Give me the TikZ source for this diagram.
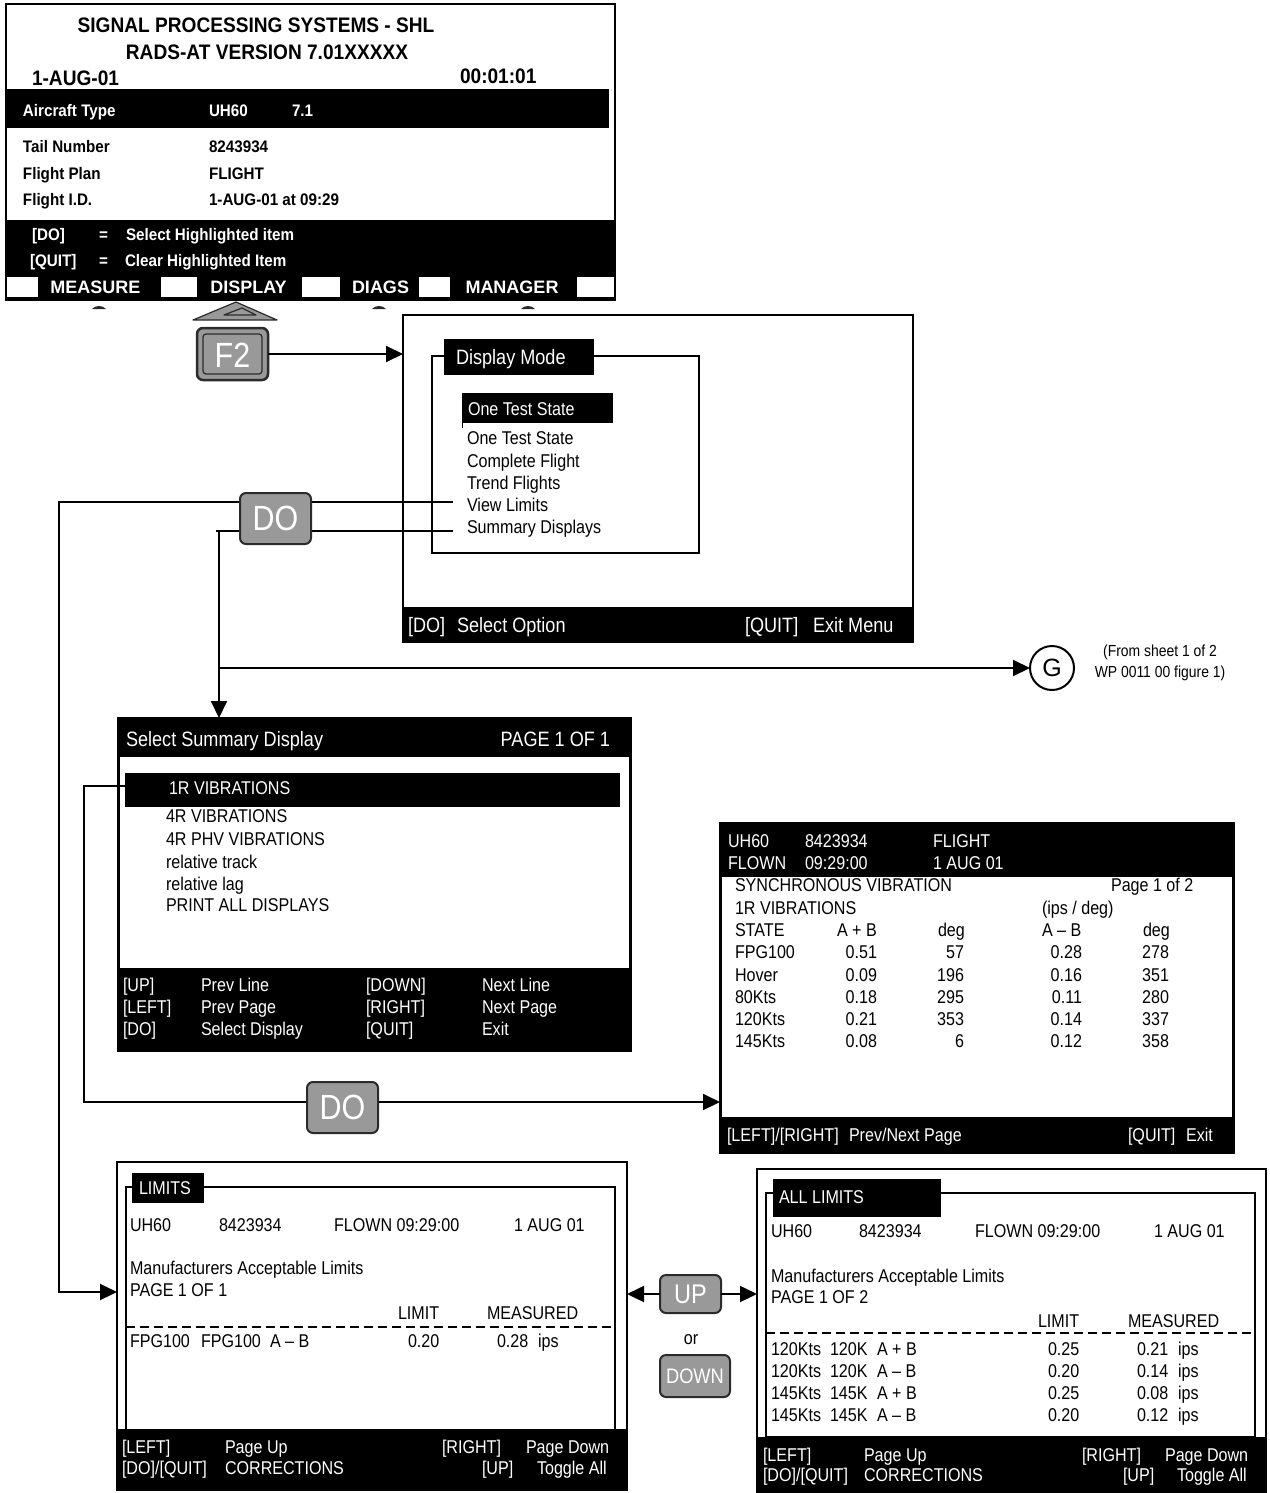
\documentclass[tikz,border=0pt]{standalone}
\usepackage{fontspec}
\setmainfont{Liberation Sans}
\newfontfamily\nar[FakeStretch=0.87]{Liberation Sans}
\newfontfamily\hdr[FakeStretch=0.91]{Liberation Sans}
\newfontfamily\fkf{Liberation Sans}
\usetikzlibrary{arrows.meta,fit}
\definecolor{keyg}{HTML}{999999}
\definecolor{keyb}{HTML}{2B2B2B}
\newcounter{tn}
\newcommand\Tx[3]{\stepcounter{tn}\node[#1] (t\arabic{tn}) at (#2) {#3};}
\tikzset{
  every node/.style={inner sep=0pt, outer sep=0pt},
  tb/.style={anchor=west, text height=13.3pt, text depth=0pt, font=\nar\fontsize{18.5}{20}\selectfont},
  tl/.style={anchor=west, text height=15pt, text depth=0pt, font=\nar\fontsize{20.8}{22}\selectfont},
  ts/.style={anchor=center, text height=11.5pt, text depth=0pt, font=\nar\fontsize{16}{17}\selectfont},
  th/.style={anchor=west, text height=15.1pt, text depth=0pt, font=\hdr\bfseries\fontsize{21}{22}\selectfont},
  tm/.style={anchor=west, text height=12pt, text depth=0pt, font=\hdr\bfseries\fontsize{16.7}{18}\selectfont},
  tf/.style={anchor=center, text height=13pt, text depth=0pt, font=\fkf\bfseries\fontsize{18}{20}\selectfont, text=white},
  wt/.style={text=white},
  scr/.style={draw=black, line width=2pt, fill=white},
  key/.style={draw=keyb, line width=2pt, fill=keyg, rounded corners=6pt},
  keytxt/.style={text=white, anchor=center, font=\nar\fontsize{#1}{#1}\selectfont},
  conn/.style={line width=2pt, draw=black},
  arr/.style={conn, -{Triangle[length=17pt,width=16pt]}},
}
\begin{document}
\begin{tikzpicture}[x=1pt,y=-1pt]
\useasboundingbox (0,0) rectangle (1269,1493);

% ---------------- top screen ----------------
\node[scr, fit={(6,4) (615,300)}] (top) {};
\fill[black] (7,89) rectangle (609,128);
\fill[black] (7,220) rectangle (614,299);
\foreach \a/\b in {7/38,161/197,302/340,419/450,577/614}
  \fill[white] (\a,277) rectangle (\b,297);
\Tx{th,anchor=center}{256,25}{SIGNAL PROCESSING SYSTEMS - SHL}
\Tx{th,anchor=center}{267,52}{RADS-AT VERSION 7.01XXXXX}
\Tx{th}{32,78}{1-AUG-01}
\Tx{th}{460,76}{00:01:01}
\Tx{tm,wt}{23,111}{Aircraft Type}
\Tx{tm,wt}{209,111}{UH60}
\Tx{tm,wt}{292,111}{7.1}
\Tx{tm}{23,146}{Tail Number}
\Tx{tm}{209,146}{8243934}
\Tx{tm}{23,173}{Flight Plan}
\Tx{tm}{209,173}{FLIGHT}
\Tx{tm}{23,199}{Flight I.D.}
\Tx{tm}{209,199}{1-AUG-01 at 09:29}
\Tx{tm,wt}{32,234}{[DO]}
\Tx{tm,wt}{99,234}{=}
\Tx{tm,wt}{126,234}{Select Highlighted item}
\Tx{tm,wt}{30,260}{[QUIT]}
\Tx{tm,wt}{99,260}{=}
\Tx{tm,wt}{125,260}{Clear Highlighted Item}
\Tx{tf}{95.5,287}{MEASURE}
\Tx{tf}{248.5,287}{DISPLAY}
\Tx{tf}{380.5,287}{DIAGS}
\Tx{tf}{512,287}{MANAGER}
% key tops below the soft keys
\foreach \c in {99,379,528}
  \fill[keyb] (\c-7,309) .. controls (\c-4,305) and (\c+4,305) .. (\c+7,309) -- cycle;
% display soft-key triangle
\draw[fill=keyg, draw=keyb, line width=1.2pt, line join=round] (193,320) -- (236,302) -- (277,320) -- cycle;
\draw[draw=keyb, line width=1.2pt, line join=round] (224,315) -- (242,308) -- (256,315) -- cycle;

% ---------------- F2 key ----------------
\node[key, line width=2.5pt, fit={(197,328) (268,380)}] (f2) {};
\draw[draw=keyb, line width=1.2pt, fill=keyg, rounded corners=3pt] (203,334) rectangle (262,374);
\node[keytxt=35] (f2t) at (232.5,355) {F2};

% ---------------- Display Mode screen ----------------
\node[scr, fit={(403,315) (913,642)}] (dm) {};
\fill[black] (403,607) rectangle (913,642);
\draw[line width=2pt] (432,356) rectangle (699,553);
\fill[black] (444,339) rectangle (594,375);
\Tx{tl,wt}{456,357}{Display Mode}
\fill[black] (462,393) rectangle (613,423);
\draw[line width=1pt] (462,423) -- (462,428);
\Tx{tb,wt}{468,409}{One Test State}
\Tx{tb}{467,438}{One Test State}
\Tx{tb}{467,461}{Complete Flight}
\Tx{tb}{467,483}{Trend Flights}
\Tx{tb}{467,505}{View Limits}
\Tx{tb}{467,527}{Summary Displays}
\Tx{tl,wt}{408,625}{[DO]}
\Tx{tl,wt}{457,625}{Select Option}
\Tx{tl,wt}{745,625}{[QUIT]}
\Tx{tl,wt}{813,625}{Exit Menu}

% ---------------- Select Summary Display ----------------
\node[scr, line width=3pt, fit={(118,718) (630,1050)}] (ssd) {};
\fill[black] (118,718) rectangle (630,757);
\fill[black] (118,968) rectangle (630,1050);
\fill[black] (125,773) rectangle (620,807);
\Tx{tl,wt}{126,739}{Select Summary Display}
\Tx{tl,wt,anchor=east}{610,739}{PAGE 1 OF 1}
\Tx{tb,wt}{169,788}{1R VIBRATIONS}
\Tx{tb}{166,816}{4R VIBRATIONS}
\Tx{tb}{166,839}{4R PHV VIBRATIONS}
\Tx{tb}{166,862}{relative track}
\Tx{tb}{166,884}{relative lag}
\Tx{tb}{166,905}{PRINT ALL DISPLAYS}
\Tx{tb,wt}{123,985}{[UP]}
\Tx{tb,wt}{201,985}{Prev Line}
\Tx{tb,wt}{366,985}{[DOWN]}
\Tx{tb,wt}{482,985}{Next Line}
\Tx{tb,wt}{123,1007}{[LEFT]}
\Tx{tb,wt}{201,1007}{Prev Page}
\Tx{tb,wt}{366,1007}{[RIGHT]}
\Tx{tb,wt}{482,1007}{Next Page}
\Tx{tb,wt}{123,1029}{[DO]}
\Tx{tb,wt}{201,1029}{Select Display}
\Tx{tb,wt}{366,1029}{[QUIT]}
\Tx{tb,wt}{482,1029}{Exit}

% ---------------- Synchronous vibration ----------------
\node[scr, line width=3pt, fit={(720,823) (1233,1152)}] (sync) {};
\fill[black] (720,823) rectangle (1233,877);
\fill[black] (720,1117) rectangle (1233,1152);
\Tx{tb,wt}{728,841}{UH60}
\Tx{tb,wt}{805,841}{8423934}
\Tx{tb,wt}{933,841}{FLIGHT}
\Tx{tb,wt}{728,863}{FLOWN}
\Tx{tb,wt}{805,863}{09:29:00}
\Tx{tb,wt}{933,863}{1 AUG 01}
\Tx{tb}{735,885}{SYNCHRONOUS VIBRATION}
\Tx{tb}{1111,885}{Page 1 of 2}
\Tx{tb}{735,908}{1R VIBRATIONS}
\Tx{tb}{1042,908}{(ips / deg)}
\Tx{tb}{735,930}{STATE}
\Tx{tb}{837,930}{A + B}
\Tx{tb}{938,930}{deg}
\Tx{tb}{1042,930}{A – B}
\Tx{tb}{1143,930}{deg}
\foreach \y/\s/\p/\q/\r/\u in {952/FPG100/0.51/57/0.28/278, 975/Hover/0.09/196/0.16/351,
   997/80Kts/0.18/295/0.11/280, 1019/120Kts/0.21/353/0.14/337, 1041/145Kts/0.08/6/0.12/358}{
  \Tx{tb}{735,\y}{\s}
  \Tx{tb,anchor=east}{877,\y}{\p}
  \Tx{tb,anchor=east}{964,\y}{\q}
  \Tx{tb,anchor=east}{1082,\y}{\r}
  \Tx{tb,anchor=east}{1169,\y}{\u}
}
\Tx{tb,wt}{727,1135}{[LEFT]/[RIGHT]}
\Tx{tb,wt}{849,1135}{Prev/Next Page}
\Tx{tb,wt}{1128,1135}{[QUIT]}
\Tx{tb,wt}{1186,1135}{Exit}

% ---------------- G connector ----------------
\node[draw, circle, line width=2pt, minimum size=44pt, fill=white,
      font=\fontsize{25}{25}\selectfont] (g) at (1052,668) {G};
\Tx{ts}{1160,651}{(From sheet 1 of 2}
\Tx{ts}{1160,672}{WP 0011 00 figure 1)}

% ---------------- LIMITS ----------------
\node[scr, fit={(117,1162) (627,1490)}] (lim) {};
\draw[line width=2.5pt] (126,1187) rectangle (615,1430);
\fill[black] (132,1173) rectangle (204,1203);
\Tx{tb,wt}{139,1188}{LIMITS}
\Tx{tb}{130,1225}{UH60}
\Tx{tb}{219,1225}{8423934}
\Tx{tb}{334,1225}{FLOWN 09:29:00}
\Tx{tb}{514,1225}{1 AUG 01}
\Tx{tb}{130,1268}{Manufacturers Acceptable Limits}
\Tx{tb}{130,1290}{PAGE 1 OF 1}
\Tx{tb}{398,1313}{LIMIT}
\Tx{tb}{487,1313}{MEASURED}
\draw[line width=2pt, dash pattern=on 9pt off 5pt] (126,1327) -- (615,1327);
\Tx{tb}{130,1341}{FPG100}
\Tx{tb}{201,1341}{FPG100}
\Tx{tb}{270,1341}{A – B}
\Tx{tb}{408,1341}{0.20}
\Tx{tb}{497,1341}{0.28}
\Tx{tb}{538,1341}{ips}
\fill[black] (116,1429) rectangle (627,1491);
\Tx{tb,wt}{122,1447}{[LEFT]}
\Tx{tb,wt}{225,1447}{Page Up}
\Tx{tb,wt}{442,1447}{[RIGHT]}
\Tx{tb,wt}{526,1447}{Page Down}
\Tx{tb,wt}{122,1468}{[DO]/[QUIT]}
\Tx{tb,wt}{225,1468}{CORRECTIONS}
\Tx{tb,wt}{482,1468}{[UP]}
\Tx{tb,wt}{537,1468}{Toggle All}

% ---------------- ALL LIMITS ----------------
\node[scr, fit={(757,1169) (1266,1492)}] (alim) {};
\draw[line width=2.5pt] (766,1193) rectangle (1255,1437);
\fill[black] (773,1179) rectangle (941,1217);
\Tx{tb,wt}{779,1197}{ALL LIMITS}
\Tx{tb}{771,1231}{UH60}
\Tx{tb}{859,1231}{8423934}
\Tx{tb}{975,1231}{FLOWN 09:29:00}
\Tx{tb}{1154,1231}{1 AUG 01}
\Tx{tb}{771,1276}{Manufacturers Acceptable Limits}
\Tx{tb}{771,1297}{PAGE 1 OF 2}
\Tx{tb}{1038,1321}{LIMIT}
\Tx{tb}{1128,1321}{MEASURED}
\draw[line width=2pt, dash pattern=on 9pt off 5pt] (766,1333) -- (1255,1333);
\foreach \y/\a/\b/\c/\d/\e in {1349/120Kts/120K/A + B/0.25/0.21, 1371/120Kts/120K/A – B/0.20/0.14,
   1393/145Kts/145K/A + B/0.25/0.08, 1415/145Kts/145K/A – B/0.20/0.12}{
  \Tx{tb}{771,\y}{\a}
  \Tx{tb}{830,\y}{\b}
  \Tx{tb}{877,\y}{\c}
  \Tx{tb}{1048,\y}{\d}
  \Tx{tb}{1137,\y}{\e}
  \Tx{tb}{1178,\y}{ips}
}
\fill[black] (757,1437) rectangle (1267,1493);
\Tx{tb,wt}{763,1455}{[LEFT]}
\Tx{tb,wt}{864,1455}{Page Up}
\Tx{tb,wt}{1082,1455}{[RIGHT]}
\Tx{tb,wt}{1165,1455}{Page Down}
\Tx{tb,wt}{763,1475}{[DO]/[QUIT]}
\Tx{tb,wt}{864,1475}{CORRECTIONS}
\Tx{tb,wt}{1123,1475}{[UP]}
\Tx{tb,wt}{1177,1475}{Toggle All}

% ---------------- UP / DOWN keys ----------------
\node[key, fit={(660,1275) (721,1313)}] (up) {};
\node[keytxt=27] (upt) at (690.5,1294) {UP};
\Tx{tb,anchor=center}{691,1338}{or}
\node[key, fit={(660,1355) (730,1397)}] (down) {};
\node[keytxt=21] (downt) at (695,1376) {DOWN};

% ---------------- connectors ----------------
\coordinate (vl) at (453,502);
\coordinate (sd) at (453,531);
\coordinate (j1) at (219,531);
\coordinate (j2) at (219,668);
\coordinate (v1) at (125,786);
\coordinate (limin) at (117,1292);
\coordinate (syin) at (720,1102);

\draw[arr] (f2.east) -- (f2.east -| dm.west);
\draw[arr] (vl) -- (59,502) -- (59,1292) -- (limin);
\draw[conn] (sd) -- (216,531);
\draw[arr] (j1) -- (j1 |- ssd.north);
\draw[arr] (j2) -- (g.west);
\draw[arr] (v1) -- (84,786) -- (84,1102) -- (syin);
\draw[arr] (up.west) -- (up.west -| lim.east);
\draw[arr] (up.east) -- (up.east -| alim.west);

% DO keys on top of the connector lines
\node[key, fit={(240,493) (311,544)}] (do1) {};
\node[keytxt=35] (do1t) at (275.5,518.5) {DO};
\node[key, fit={(307,1082) (378,1133)}] (do2) {};
\node[keytxt=35] (do2t) at (342.5,1107.5) {DO};
\end{tikzpicture}
\end{document}
